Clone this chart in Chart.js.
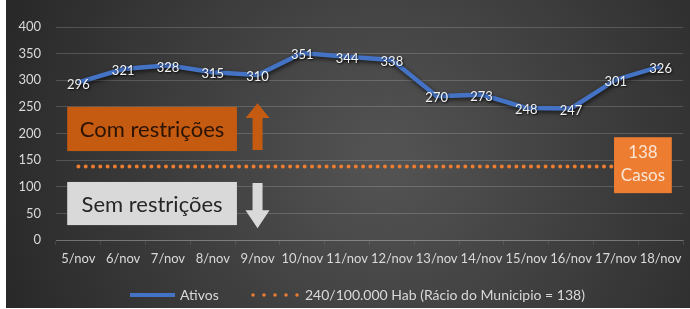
<!DOCTYPE html>
<html>
<head>
<meta charset="utf-8">
<script src="https://cdn.jsdelivr.net/npm/chart.js@4.4.1/dist/chart.umd.min.js"></script>
<style>
  html, body { margin:0; padding:0; background:#ffffff; }
  #wrap { position:absolute; left:6px; top:0; width:684px; height:308px; }
</style>
</head>
<body>
<div id="wrap"><canvas id="myChart" width="684" height="308"></canvas></div>
<script>
// dados do grafico
var dias = ['5/nov', '6/nov', '7/nov', '8/nov', '9/nov', '10/nov', '11/nov', '12/nov', '13/nov', '14/nov', '15/nov', '16/nov', '17/nov', '18/nov'];
var ativos = [296, 321, 328, 315, 310, 351, 344, 338, 270, 273, 248, 247, 301, 326];
var limiar = [138, 138, 138, 138, 138, 138, 138, 138, 138, 138, 138, 138, 138, 138];
var yTicks = [0, 50, 100, 150, 200, 250, 300, 350, 400];
var legendas = ['Ativos', '240/100.000 Hab (Rácio do Municipio = 138)'];
var textoCom = 'Com restrições';
var textoSem = 'Sem restrições';
var caixaCasos = ['138', 'Casos'];

var FONTE = 'Lato, "Liberation Sans", sans-serif';

// fundo escuro em gradiente
var fundoPlugin = {
  id: 'fundo',
  beforeDraw: function(chart) {
    var ctx = chart.ctx;
    var g = ctx.createRadialGradient(380, 160, 20, 380, 160, 430);
    g.addColorStop(0, '#525252');
    g.addColorStop(1, '#262626');
    ctx.save();
    ctx.fillStyle = g;
    ctx.fillRect(0, 0, chart.width, chart.height);
    ctx.restore();
  }
};

// sombra da linha azul
var sombraPlugin = {
  id: 'sombra',
  beforeDatasetDraw: function(chart, args) {
    if (args.index !== 0) return;
    var ctx = chart.ctx;
    ctx.save();
    ctx.shadowColor = 'rgba(0,0,0,0.65)';
    ctx.shadowBlur = 4;
    ctx.shadowOffsetX = 1;
    ctx.shadowOffsetY = 2;
  },
  afterDatasetDraw: function(chart, args) {
    if (args.index !== 0) return;
    chart.ctx.restore();
  }
};

function seta(ctx, cx, yBase, yCabeca, yPonta, cor) {
  ctx.fillStyle = cor;
  ctx.beginPath();
  ctx.moveTo(cx - 5, yBase);
  ctx.lineTo(cx + 5, yBase);
  ctx.lineTo(cx + 5, yCabeca);
  ctx.lineTo(cx + 12, yCabeca);
  ctx.lineTo(cx, yPonta);
  ctx.lineTo(cx - 12, yCabeca);
  ctx.lineTo(cx - 5, yCabeca);
  ctx.closePath();
  ctx.fill();
}

// caixas, setas, rotulos e legenda
var anotacoesPlugin = {
  id: 'anotacoes',
  afterDatasetsDraw: function(chart) {
    var ctx = chart.ctx;
    var x = chart.scales.x, y = chart.scales.y;
    function px(i) { return x.getPixelForValue(i); }
    function py(v) { return y.getPixelForValue(v); }

    ctx.save();
    ctx.textAlign = 'center';
    ctx.textBaseline = 'middle';

    // Com restricoes
    var x0 = px(-0.25), x1 = px(3.54);
    ctx.fillStyle = '#C55A11';
    ctx.fillRect(x0, py(250), x1 - x0, py(167) - py(250));
    ctx.fillStyle = '#2b1404';
    ctx.font = '22px ' + FONTE;
    ctx.fillText(textoCom, (x0 + x1) / 2, (py(250) + py(167)) / 2 + 1);

    // Sem restricoes
    ctx.fillStyle = '#D9D9D9';
    ctx.fillRect(x0, py(109), x1 - x0, py(28) - py(109));
    ctx.fillStyle = '#262626';
    ctx.fillText(textoSem, (x0 + x1) / 2, (py(109) + py(28)) / 2 + 1);

    // setas
    seta(ctx, px(4), py(169), py(229), py(257), '#C55A11');
    seta(ctx, px(4), py(107), py(56), py(22), '#D9D9D9');

    // caixa 138 casos
    var c0 = px(11.96), c1 = px(13.25);
    ctx.fillStyle = '#ED7D31';
    ctx.fillRect(c0, py(193), c1 - c0, py(88) - py(193));
    ctx.fillStyle = '#FBE5D6';
    ctx.font = '17px ' + FONTE;
    ctx.fillText(caixaCasos[0], (c0 + c1) / 2, py(193) + 15);
    ctx.fillText(caixaCasos[1], (c0 + c1) / 2, py(193) + 38);

    // rotulos dos valores
    var meta = chart.getDatasetMeta(0);
    ctx.font = '13px ' + FONTE;
    ctx.shadowColor = 'rgba(0,0,0,0.8)';
    ctx.shadowBlur = 2;
    ctx.shadowOffsetX = 1;
    ctx.shadowOffsetY = 1;
    ctx.fillStyle = '#F2F2F2';
    meta.data.forEach(function(pt, i) {
      ctx.fillText(String(ativos[i]), pt.x, pt.y + 2);
    });
    ctx.restore();

    // legenda
    var ly = 295;
    ctx.save();
    ctx.strokeStyle = '#4472C4';
    ctx.lineWidth = 4;
    ctx.beginPath();
    ctx.moveTo(124, ly);
    ctx.lineTo(169, ly);
    ctx.stroke();
    ctx.strokeStyle = '#ED7D31';
    ctx.lineCap = 'round';
    ctx.lineWidth = 3.5;
    ctx.setLineDash([0, 11]);
    ctx.beginPath();
    ctx.moveTo(247, ly);
    ctx.lineTo(294, ly);
    ctx.stroke();
    ctx.setLineDash([]);
    ctx.fillStyle = '#D9D9D9';
    ctx.font = '14px ' + FONTE;
    ctx.textAlign = 'left';
    ctx.textBaseline = 'middle';
    ctx.fillText(legendas[0], 174, ly);
    ctx.fillText(legendas[1], 299, ly);
    ctx.restore();
  }
};

var ctx = document.getElementById('myChart').getContext('2d');
var myChart = new Chart(ctx, {
  type: 'line',
  data: {
    labels: dias,
    datasets: [{
      label: legendas[0],
      data: ativos,
      borderColor: '#4472C4',
      borderWidth: 4.5,
      pointRadius: 0,
      tension: 0,
      fill: false
    }, {
      label: legendas[1],
      data: limiar,
      borderColor: '#ED7D31',
      borderWidth: 4,
      borderDash: [0, 7.3],
      borderCapStyle: 'round',
      pointRadius: 0,
      fill: false
    }]
  },
  options: {
    responsive: false,
    animation: false,
    devicePixelRatio: 1,
    layout: { padding: { top: 27, right: 7, bottom: 0, left: 0 } },
    plugins: {
      legend: { display: false },
      tooltip: { enabled: false }
    },
    scales: {
      x: {
        offset: true,
        grid: {
          offset: true,
          drawOnChartArea: false,
          drawTicks: true,
          tickLength: 5,
          color: 'rgba(255,255,255,0.10)'
        },
        border: { color: 'rgba(255,255,255,0.18)' },
        ticks: {
          color: '#D9D9D9',
          font: { family: FONTE, size: 13 },
          maxRotation: 0,
          minRotation: 0,
          autoSkip: false,
          padding: 6
        },
        afterFit: function(scale) { scale.height = 68; }
      },
      y: {
        min: 0,
        max: 400,
        afterBuildTicks: function(scale) {
          scale.ticks = yTicks.map(function(v) { return { value: v }; });
        },
        grid: {
          color: 'rgba(255,255,255,0.17)',
          drawTicks: false
        },
        border: { display: false },
        ticks: {
          color: '#D9D9D9',
          font: { family: FONTE, size: 13 },
          padding: 15
        },
        afterFit: function(scale) { scale.width = 50; }
      }
    }
  },
  plugins: [fundoPlugin, sombraPlugin, anotacoesPlugin]
});
</script>
</body>
</html>
